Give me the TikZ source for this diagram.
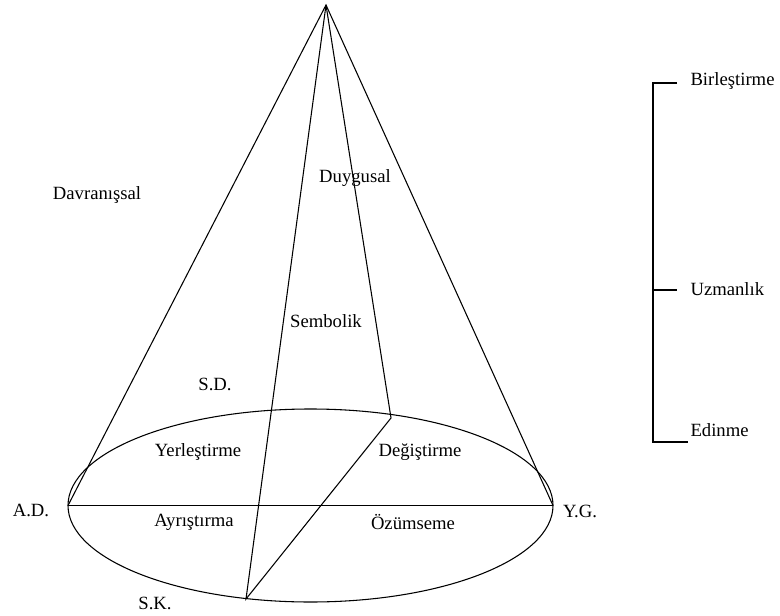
\documentclass[tikz,border=0pt]{standalone}
\usepackage{fontspec}
\setmainfont{Liberation Serif}

\tikzset{
  lbl/.style={font=\fontsize{14}{16}\selectfont,inner sep=0pt},
}

\begin{document}
\begin{tikzpicture}[x=0.75pt,y=-0.75pt,line width=0.8pt]
  \useasboundingbox (0,0) rectangle (780,616);
  % cone
  \coordinate (top) at (326,5);
  \coordinate (ad) at (68,505.5);
  \coordinate (yg) at (553,505.5);
  \coordinate (dg) at (391,418);
  \coordinate (sk) at (246,599);
  \draw (310.5,505.5) ellipse [x radius=181.875pt, y radius=72.375pt];
  \draw (ad) -- (top) -- (yg);
  \draw (ad) -- (yg);
  \draw (top) -- (sk) -- (dg) -- (top);
  % labels
  \node[lbl] (davr) at (97,195) {Davranışsal};
  \node[lbl] (duyg) at (355,178) {Duygusal};
  \node[lbl] (semb) at (326,321) {Sembolik};
  \node[lbl] (sdl) at (215,384) {S.D.};
  \node[lbl] (yerl) at (198,452) {Yerleştirme};
  \node[lbl] (degi) at (420,452) {Değiştirme};
  \node[lbl] (ayri) at (194,522) {Ayrıştırma};
  \node[lbl] (ozum) at (413,522) {Özümseme};
  \node[lbl] (adl) at (31,510) {A.D.};
  \node[lbl] (ygl) at (580,511) {Y.G.};
  \node[lbl] (skl) at (155,603) {S.K.};
  % levels
  \draw (677,83) -- (653,83) -- (653,442) -- (688,442);
  \draw (653,290) -- (677,290);
  \node[lbl,anchor=west] (birl) at (690,81) {Birleştirme};
  \node[lbl,anchor=west] (uzma) at (690,289) {Uzmanlık};
  \node[lbl,anchor=west] (edin) at (690,430) {Edinme};
\end{tikzpicture}
\end{document}
